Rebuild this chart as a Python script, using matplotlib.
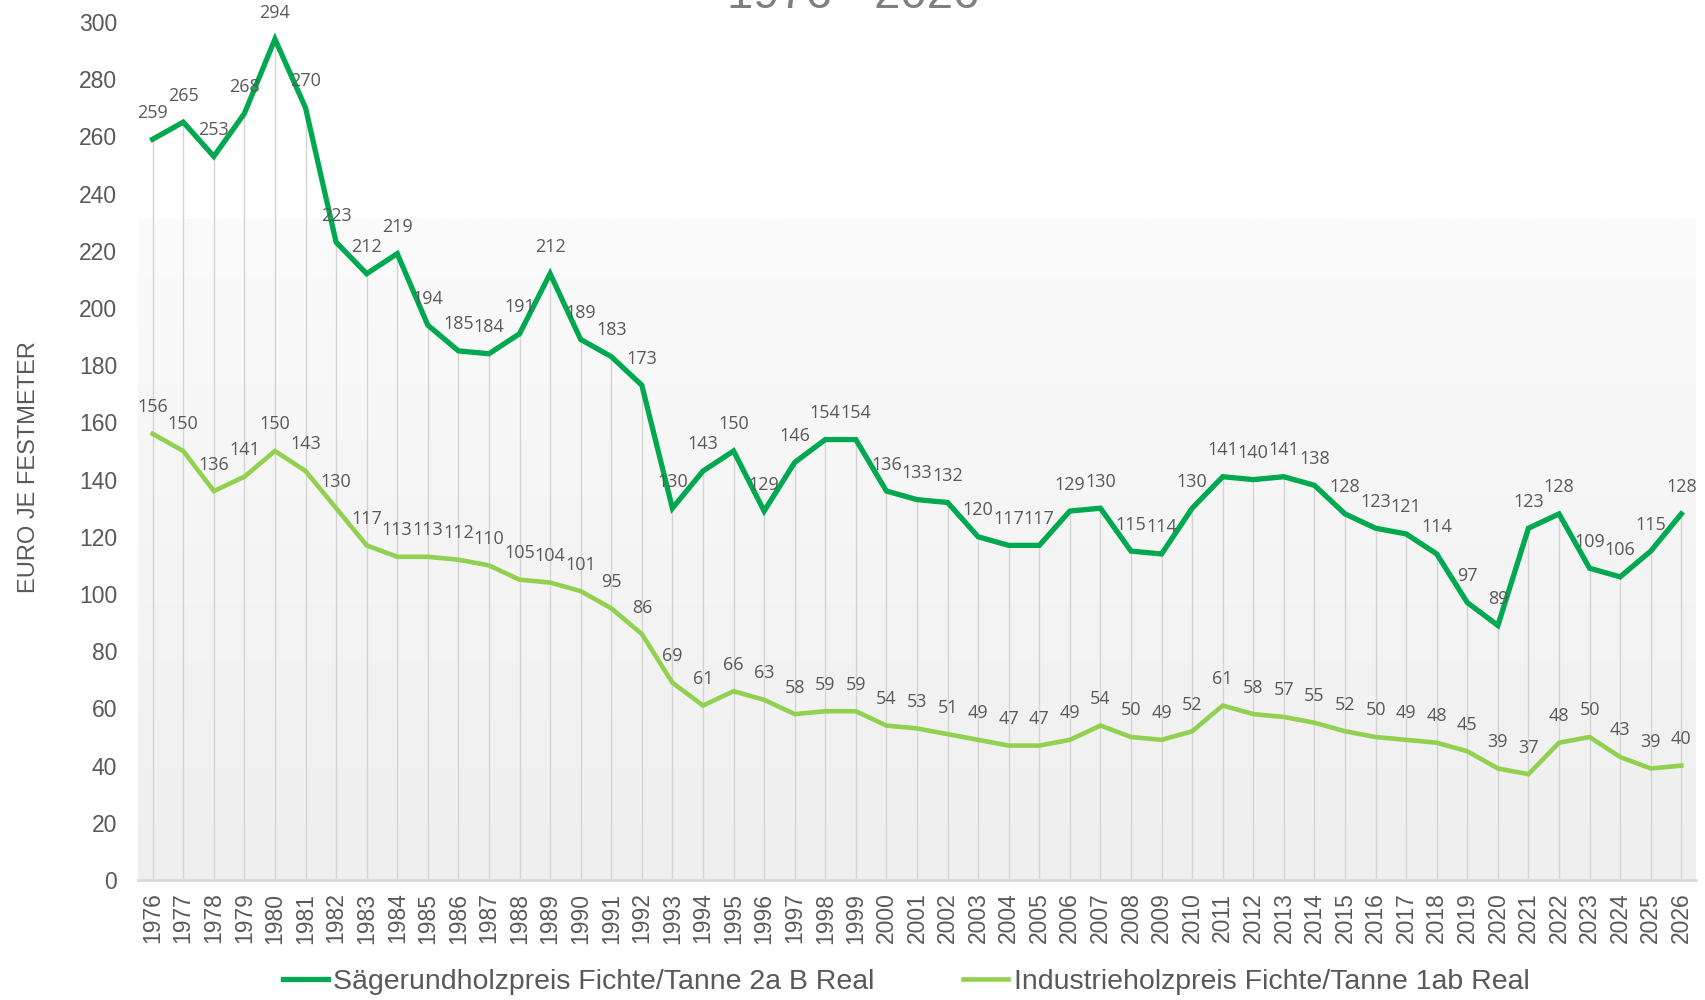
import matplotlib
matplotlib.use("Agg")
import matplotlib.pyplot as plt
import numpy as np
from matplotlib.colors import LinearSegmentedColormap

years = [str(y) for y in range(1976, 2027)]
saege = [259, 265, 253, 268, 294, 270, 223, 212, 219, 194,
         185, 184, 191, 212, 189, 183, 173, 130, 143, 150,
         129, 146, 154, 154, 136, 133, 132, 120, 117, 117,
         129, 130, 115, 114, 130, 141, 140, 141, 138, 128,
         123, 121, 114, 97, 89, 123, 128, 109, 106, 115, 128]
industrie = [156, 150, 136, 141, 150, 143, 130, 117, 113, 113,
             112, 110, 105, 104, 101, 95, 86, 69, 61, 66,
             63, 58, 59, 59, 54, 53, 51, 49, 47, 47,
             49, 54, 50, 49, 52, 61, 58, 57, 55, 52,
             50, 49, 48, 45, 39, 37, 48, 50, 43, 39, 40]
series_names = ["Sägerundholzpreis Fichte/Tanne 2a B Real",
                "Industrieholzpreis Fichte/Tanne 1ab Real"]
title = "1976 - 2026"
ylabel = "EURO JE FESTMETER"

DARK = "#00A84F"
LIGHT = "#92D050"
TXT = "#595959"

fig = plt.figure(figsize=(17.06, 10.0), dpi=100)
ax = fig.add_axes([138 / 1706, 0.12, (1696 - 138) / 1706, 0.978 - 0.12])

x = np.arange(len(years))
ax.set_xlim(-0.48, len(years) - 1 + 0.48)
ax.set_ylim(0, 300)

# background gradient
grad = np.linspace(0, 1, 256).reshape(-1, 1)
cmap = LinearSegmentedColormap.from_list("g", ["#efefef", "#fbfbfb"])
ax.imshow(grad, extent=(-0.48, len(years) - 1 + 0.48, 0, 231), origin="lower",
          aspect="auto", cmap=cmap, zorder=0)

# drop lines
ax.vlines(x, 0, saege, colors="#d4d4d4", linewidth=1.0, zorder=1)

ax.plot(x, saege, color=DARK, linewidth=3.8, label=series_names[0], zorder=3,
        solid_joinstyle="miter")
ax.plot(x, industrie, color=LIGHT, linewidth=3.3, label=series_names[1], zorder=3,
        solid_joinstyle="miter")

for i, v in enumerate(saege):
    ax.annotate(str(v), (i, v), xytext=(0, 15.5), textcoords="offset points",
                ha="center", va="baseline", fontsize=13, color=TXT,
                family="Open Sans", annotation_clip=False, zorder=4)
for i, v in enumerate(industrie):
    ax.annotate(str(v), (i, v), xytext=(0, 15.5), textcoords="offset points",
                ha="center", va="baseline", fontsize=13, color=TXT,
                family="Open Sans", annotation_clip=False, zorder=4)

for s in ["top", "right", "left"]:
    ax.spines[s].set_visible(False)
ax.spines["bottom"].set_color("#d9d9d9")
ax.spines["bottom"].set_linewidth(2)
ax.spines["bottom"].set_zorder(2)

ax.set_yticks(np.arange(0, 301, 20))
ax.set_yticklabels([str(v) for v in range(0, 301, 20)], family="Liberation Sans",
                   fontsize=16.5, color=TXT)
ax.tick_params(axis="y", length=0, pad=15)
ax.set_xticks(x)
ax.set_xticklabels(years, rotation=90, family="Liberation Sans", fontsize=16.5, color=TXT)
ax.tick_params(axis="x", length=0, pad=9)

fig.text(29 / 1706, 0.533, ylabel, rotation=90, ha="center", va="center",
         fontsize=17, color=TXT, family="Liberation Sans")
fig.text(0.5, 0.992, title, ha="center", va="baseline", fontsize=34,
         color="#7f7f7f", family="Liberation Sans")

leg = fig.legend(loc="center", bbox_to_anchor=(0.531, 0.018), ncol=2, frameon=False,
                 prop={"family": "Liberation Sans", "size": 20.5},
                 handlelength=1.6, handletextpad=0.18, columnspacing=3.1,
                 labelcolor=TXT)

fig.savefig("out.png", dpi=100, facecolor="white")
